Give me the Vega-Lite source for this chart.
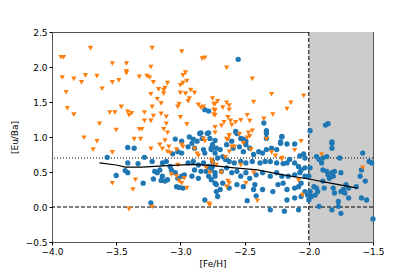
{
 "$schema": "https://vega.github.io/schema/vega-lite/v6.json",
 "width": 321, "height": 210,
 "autosize": "none",
 "padding": {"left": 52, "top": 32, "right": 42, "bottom": 35},
 "background": "white",
 "config": {
  "view": {"stroke": "#555", "strokeWidth": 1},
  "axis": {"grid": false, "labelFont": "DejaVu Sans", "titleFont": "DejaVu Sans", "labelFontSize": 9, "titleFontSize": 9, "titleFontWeight": "normal", "labelColor": "#000", "titleColor": "#000", "tickColor": "#000", "domain": false, "tickSize": 3, "labelPadding": 2, "labelOverlap": false, "labelFlush": false}
 },
 "datasets": {
  "shade": [{"x1": -2, "x2": -1.5, "y1": -0.5, "y2": 2.5}],
  "dotted": [{"level": 0.7}],
  "dashed": [{"level": 0.0}],
  "vline": [{"feh": -2.0}],
  "trend": [
   {"x": -3.63, "y": 0.63}, {"x": -3.5, "y": 0.6}, {"x": -3.43, "y": 0.57}, {"x": -3.3, "y": 0.57}, {"x": -3.1, "y": 0.59}, {"x": -2.9, "y": 0.61}, {"x": -2.75, "y": 0.59}, {"x": -2.58, "y": 0.56}, {"x": -2.4, "y": 0.53}, {"x": -2.2, "y": 0.46}, {"x": -2.0, "y": 0.4}, {"x": -1.8, "y": 0.33}, {"x": -1.62, "y": 0.27}
  ],
  "orange": [
   {"x": -3.93, "y": 2.14}, {"x": -3.91, "y": 2.14}, {"x": -3.7, "y": 2.27}, {"x": -3.22, "y": 2.27}, {"x": -2.99, "y": 2.22}, {"x": -2.83, "y": 2.12}, {"x": -2.81, "y": 2.13}, {"x": -3.53, "y": 2.05}, {"x": -3.42, "y": 2.05}, {"x": -3.23, "y": 2.0}, {"x": -3.42, "y": 1.94}, {"x": -3.42, "y": 1.91}, {"x": -2.96, "y": 1.92}, {"x": -2.98, "y": 1.88}, {"x": -3.92, "y": 1.85}, {"x": -3.83, "y": 1.83}, {"x": -3.74, "y": 1.88}, {"x": -3.77, "y": 1.78}, {"x": -3.65, "y": 1.87}, {"x": -3.53, "y": 1.78}, {"x": -3.48, "y": 1.81}, {"x": -3.32, "y": 1.86}, {"x": -3.26, "y": 1.87}, {"x": -3.24, "y": 1.85}, {"x": -3.21, "y": 1.78}, {"x": -3.1, "y": 1.77}, {"x": -3.12, "y": 1.7}, {"x": -3.13, "y": 1.67}, {"x": -3.13, "y": 1.62}, {"x": -3.0, "y": 1.74}, {"x": -2.98, "y": 1.77}, {"x": -2.95, "y": 1.8}, {"x": -3.17, "y": 1.68}, {"x": -3.0, "y": 1.63}, {"x": -2.96, "y": 1.62}, {"x": -2.92, "y": 1.67}, {"x": -2.89, "y": 1.63}, {"x": -2.93, "y": 1.55}, {"x": -2.94, "y": 1.51}, {"x": -3.23, "y": 1.61}, {"x": -3.61, "y": 1.69}, {"x": -3.89, "y": 1.64}, {"x": -3.18, "y": 1.54}, {"x": -3.15, "y": 1.48}, {"x": -3.22, "y": 1.43}, {"x": -3.01, "y": 1.47}, {"x": -3.02, "y": 1.43}, {"x": -2.86, "y": 1.46}, {"x": -2.84, "y": 1.42}, {"x": -2.82, "y": 1.43}, {"x": -2.74, "y": 1.47}, {"x": -2.74, "y": 1.39}, {"x": -2.74, "y": 1.32}, {"x": -3.88, "y": 1.41}, {"x": -3.83, "y": 1.32}, {"x": -3.46, "y": 1.43}, {"x": -3.55, "y": 1.35}, {"x": -3.51, "y": 1.35}, {"x": -3.41, "y": 1.36}, {"x": -3.38, "y": 1.34}, {"x": -3.4, "y": 1.31}, {"x": -3.28, "y": 1.35}, {"x": -3.15, "y": 1.33}, {"x": -3.11, "y": 1.29}, {"x": -3.21, "y": 1.3}, {"x": -3.28, "y": 1.23}, {"x": -3.23, "y": 1.23}, {"x": -3.0, "y": 1.28}, {"x": -2.95, "y": 1.18}, {"x": -3.11, "y": 1.19}, {"x": -3.1, "y": 1.06}, {"x": -3.63, "y": 1.19}, {"x": -3.5, "y": 1.1}, {"x": -3.32, "y": 1.11}, {"x": -3.3, "y": 1.11}, {"x": -3.13, "y": 1.11}, {"x": -3.75, "y": 0.99}, {"x": -3.65, "y": 0.94}, {"x": -3.36, "y": 0.97}, {"x": -3.31, "y": 0.97}, {"x": -3.12, "y": 0.95}, {"x": -2.82, "y": 0.97}, {"x": -2.81, "y": 0.94}, {"x": -2.73, "y": 1.06},
   {"x": -2.64, "y": 1.99}, {"x": -2.44, "y": 1.83}, {"x": -2.29, "y": 1.61}, {"x": -2.04, "y": 1.59}, {"x": -2.14, "y": 1.49}, {"x": -2.17, "y": 1.4}, {"x": -2.28, "y": 1.32}, {"x": -2.35, "y": 1.26}, {"x": -2.43, "y": 1.5}, {"x": -2.48, "y": 1.31}, {"x": -2.46, "y": 1.23}, {"x": -2.44, "y": 1.09}, {"x": -2.75, "y": 1.55}, {"x": -2.71, "y": 1.51}, {"x": -2.73, "y": 1.47}, {"x": -2.64, "y": 1.49}, {"x": -2.62, "y": 1.45}, {"x": -2.67, "y": 1.42}, {"x": -2.62, "y": 1.39}, {"x": -2.73, "y": 1.38}, {"x": -2.73, "y": 1.31}, {"x": -2.63, "y": 1.28}, {"x": -2.61, "y": 1.23}, {"x": -2.66, "y": 1.21}, {"x": -2.53, "y": 1.24}, {"x": -2.57, "y": 1.21}, {"x": -2.73, "y": 1.14}, {"x": -2.68, "y": 1.16}, {"x": -2.6, "y": 1.17}, {"x": -2.62, "y": 1.02}, {"x": -2.54, "y": 1.04}, {"x": -2.48, "y": 0.99}, {"x": -2.33, "y": 0.97}, {"x": -2.64, "y": 0.97}, {"x": -2.06, "y": 0.94},
   {"x": -3.68, "y": 0.82}, {"x": -3.53, "y": 0.78}, {"x": -3.53, "y": 0.34}, {"x": -3.35, "y": 0.39}, {"x": -3.37, "y": 0.25}, {"x": -3.4, "y": -0.03},
   {"x": -3.23, "y": 0.83}, {"x": -3.16, "y": 0.89}, {"x": -3.14, "y": 0.83}, {"x": -3.09, "y": 0.86}, {"x": -3.1, "y": 0.79}, {"x": -3.08, "y": 0.77}, {"x": -3.03, "y": 0.82}, {"x": -2.99, "y": 0.89}, {"x": -2.98, "y": 0.86}, {"x": -2.89, "y": 0.83}, {"x": -2.87, "y": 0.76}, {"x": -2.86, "y": 0.73}, {"x": -3.02, "y": 0.6}, {"x": -3.07, "y": 0.46}, {"x": -3.03, "y": 0.44}, {"x": -3.01, "y": 0.37}, {"x": -2.97, "y": 0.41}, {"x": -2.99, "y": 0.34}, {"x": -2.95, "y": 0.27}, {"x": -2.8, "y": 0.56}, {"x": -2.76, "y": 0.67}, {"x": -2.75, "y": 0.63}, {"x": -2.77, "y": 0.49}, {"x": -2.78, "y": 0.05}, {"x": -3.22, "y": 0.0},
   {"x": -2.62, "y": 1.02}, {"x": -2.63, "y": 0.96}, {"x": -2.6, "y": 0.86}, {"x": -2.62, "y": 0.79}, {"x": -2.58, "y": 0.86}, {"x": -2.51, "y": 0.91}, {"x": -2.46, "y": 1.01}, {"x": -2.45, "y": 0.82}, {"x": -2.47, "y": 1.06}, {"x": -2.29, "y": 0.78}, {"x": -2.26, "y": 0.73}, {"x": -2.21, "y": 0.68}, {"x": -2.65, "y": 0.71}, {"x": -2.53, "y": 0.6}, {"x": -2.72, "y": 0.6}, {"x": -2.68, "y": 0.49}, {"x": -2.43, "y": 0.49}, {"x": -2.63, "y": 0.37}, {"x": -2.64, "y": 0.29}, {"x": -2.62, "y": 0.34}, {"x": -2.49, "y": 0.34}, {"x": -2.4, "y": 0.09}, {"x": -2.77, "y": 0.03},
   {"x": -2.11, "y": 0.81}, {"x": -2.21, "y": 0.7}, {"x": -2.08, "y": 0.38}, {"x": -2.05, "y": 0.17}, {"x": -1.9, "y": 0.75}, {"x": -1.58, "y": 0.56}
  ],
  "blue": [
   {"x": -3.04, "y": 0.97}, {"x": -2.99, "y": 0.94}, {"x": -2.93, "y": 1.0}, {"x": -2.9, "y": 0.97}, {"x": -2.87, "y": 0.94}, {"x": -2.84, "y": 1.06}, {"x": -2.81, "y": 1.39}, {"x": -2.78, "y": 1.06}, {"x": -2.78, "y": 1.37},
   {"x": -2.55, "y": 2.11}, {"x": -2.35, "y": 1.2}, {"x": -2.33, "y": 1.09}, {"x": -2.33, "y": 1.05}, {"x": -2.33, "y": 0.98}, {"x": -2.21, "y": 1.0}, {"x": -2.57, "y": 1.08}, {"x": -2.56, "y": 1.05}, {"x": -2.53, "y": 0.98}, {"x": -2.51, "y": 0.97}, {"x": -2.49, "y": 0.94}, {"x": -2.73, "y": 0.95}, {"x": -1.99, "y": 1.09}, {"x": -1.87, "y": 1.17}, {"x": -1.85, "y": 1.19}, {"x": -1.82, "y": 0.93}, {"x": -2.22, "y": 0.93},
   {"x": -3.57, "y": 0.71}, {"x": -3.41, "y": 0.85}, {"x": -3.36, "y": 0.84}, {"x": -3.41, "y": 0.63}, {"x": -3.33, "y": 0.62}, {"x": -3.43, "y": 0.52}, {"x": -3.41, "y": 0.49}, {"x": -3.5, "y": 0.45}, {"x": -3.29, "y": 0.34}, {"x": -3.28, "y": 0.71}, {"x": -3.23, "y": 0.06}, {"x": -3.22, "y": 0.65},
   {"x": -3.18, "y": 0.49}, {"x": -3.16, "y": 0.53}, {"x": -3.2, "y": 0.51}, {"x": -3.21, "y": 0.4}, {"x": -3.14, "y": 0.44}, {"x": -3.15, "y": 0.38}, {"x": -3.12, "y": 0.37}, {"x": -3.1, "y": 0.39}, {"x": -3.14, "y": 0.63}, {"x": -3.11, "y": 0.65}, {"x": -3.08, "y": 0.58}, {"x": -3.07, "y": 0.53}, {"x": -3.04, "y": 0.49}, {"x": -3.06, "y": 0.76}, {"x": -3.02, "y": 0.79}, {"x": -2.99, "y": 0.77}, {"x": -3.03, "y": 0.29}, {"x": -3.01, "y": 0.28}, {"x": -2.98, "y": 0.27}, {"x": -3.02, "y": 0.41}, {"x": -2.99, "y": 0.44}, {"x": -2.91, "y": 0.91}, {"x": -2.94, "y": 0.86}, {"x": -2.85, "y": 1.05}, {"x": -2.83, "y": 0.98}, {"x": -2.79, "y": 1.05}, {"x": -2.77, "y": 0.98}, {"x": -2.89, "y": 0.84}, {"x": -2.82, "y": 0.82}, {"x": -2.81, "y": 0.77}, {"x": -2.76, "y": 0.84}, {"x": -2.94, "y": 0.63}, {"x": -2.9, "y": 0.65}, {"x": -2.86, "y": 0.6}, {"x": -2.82, "y": 0.63}, {"x": -2.78, "y": 0.58}, {"x": -2.75, "y": 0.65}, {"x": -2.89, "y": 0.53}, {"x": -2.84, "y": 0.51}, {"x": -2.8, "y": 0.51}, {"x": -2.76, "y": 0.53}, {"x": -2.97, "y": 0.46}, {"x": -2.91, "y": 0.44}, {"x": -2.86, "y": 0.41}, {"x": -2.78, "y": 0.44}, {"x": -2.73, "y": 0.44}, {"x": -2.81, "y": 0.1}, {"x": -2.72, "y": 0.22}, {"x": -2.73, "y": 0.34},
   {"x": -2.75, "y": 0.89}, {"x": -2.76, "y": 0.82}, {"x": -2.72, "y": 0.84}, {"x": -2.73, "y": 0.77}, {"x": -2.69, "y": 0.82}, {"x": -2.67, "y": 0.72}, {"x": -2.71, "y": 0.7}, {"x": -2.65, "y": 0.68}, {"x": -2.64, "y": 0.89}, {"x": -2.6, "y": 0.94}, {"x": -2.59, "y": 0.84}, {"x": -2.54, "y": 0.86}, {"x": -2.49, "y": 0.89}, {"x": -2.46, "y": 0.84}, {"x": -2.51, "y": 0.79}, {"x": -2.43, "y": 0.75}, {"x": -2.39, "y": 0.79}, {"x": -2.36, "y": 0.77}, {"x": -2.33, "y": 0.82}, {"x": -2.29, "y": 0.84}, {"x": -2.25, "y": 0.82}, {"x": -2.21, "y": 1.01}, {"x": -2.22, "y": 0.91}, {"x": -2.62, "y": 0.65}, {"x": -2.58, "y": 0.63}, {"x": -2.53, "y": 0.65}, {"x": -2.49, "y": 0.63}, {"x": -2.44, "y": 0.65}, {"x": -2.38, "y": 0.63}, {"x": -2.34, "y": 0.65}, {"x": -2.3, "y": 0.65}, {"x": -2.25, "y": 0.63}, {"x": -2.2, "y": 0.62}, {"x": -2.75, "y": 0.58}, {"x": -2.73, "y": 0.49}, {"x": -2.76, "y": 0.39}, {"x": -2.68, "y": 0.51}, {"x": -2.64, "y": 0.56}, {"x": -2.6, "y": 0.49}, {"x": -2.56, "y": 0.51}, {"x": -2.53, "y": 0.44}, {"x": -2.49, "y": 0.49}, {"x": -2.46, "y": 0.41}, {"x": -2.41, "y": 0.46}, {"x": -2.36, "y": 0.49}, {"x": -2.3, "y": 0.44}, {"x": -2.25, "y": 0.49}, {"x": -2.21, "y": 0.44}, {"x": -2.72, "y": 0.32}, {"x": -2.69, "y": 0.25}, {"x": -2.67, "y": 0.34}, {"x": -2.62, "y": 0.27}, {"x": -2.56, "y": 0.32}, {"x": -2.51, "y": 0.29}, {"x": -2.43, "y": 0.25}, {"x": -2.42, "y": 0.32}, {"x": -2.36, "y": 0.25}, {"x": -2.28, "y": 0.22}, {"x": -2.24, "y": 0.32}, {"x": -2.2, "y": 0.34}, {"x": -2.71, "y": 0.15}, {"x": -2.41, "y": 0.16}, {"x": -2.48, "y": 0.09}, {"x": -2.3, "y": -0.04}, {"x": -2.19, "y": -0.06},
   {"x": -2.17, "y": 0.9}, {"x": -2.11, "y": 0.9}, {"x": -2.04, "y": 0.76}, {"x": -2.03, "y": 0.7}, {"x": -2.07, "y": 0.73}, {"x": -2.17, "y": 0.63}, {"x": -2.15, "y": 0.68}, {"x": -2.11, "y": 0.63}, {"x": -2.08, "y": 0.58}, {"x": -2.06, "y": 0.53}, {"x": -2.03, "y": 0.56}, {"x": -2.16, "y": 0.44}, {"x": -2.11, "y": 0.46}, {"x": -2.07, "y": 0.49}, {"x": -2.03, "y": 0.44}, {"x": -2.06, "y": 0.34}, {"x": -2.17, "y": 0.25}, {"x": -2.11, "y": 0.27}, {"x": -2.08, "y": 0.29}, {"x": -2.03, "y": 0.22}, {"x": -2.17, "y": 0.1}, {"x": -2.11, "y": 0.13}, {"x": -2.06, "y": 0.15}, {"x": -2.01, "y": 0.17}, {"x": -2.08, "y": -0.04},
   {"x": -1.99, "y": 0.56}, {"x": -2.0, "y": 0.44}, {"x": -1.98, "y": 0.15}, {"x": -2.0, "y": 0.1}, {"x": -1.99, "y": 0.22}, {"x": -1.96, "y": 0.29}, {"x": -1.94, "y": 0.72}, {"x": -1.92, "y": 0.68}, {"x": -1.89, "y": 0.7}, {"x": -1.9, "y": 0.63}, {"x": -1.82, "y": 0.91}, {"x": -1.82, "y": 0.84}, {"x": -1.76, "y": 0.7}, {"x": -1.89, "y": 0.53}, {"x": -1.86, "y": 0.51}, {"x": -1.85, "y": 0.46}, {"x": -1.82, "y": 0.49}, {"x": -1.81, "y": 0.44}, {"x": -1.84, "y": 0.41}, {"x": -1.8, "y": 0.51}, {"x": -1.75, "y": 0.49}, {"x": -1.89, "y": 0.37}, {"x": -1.94, "y": 0.27}, {"x": -1.93, "y": 0.22}, {"x": -1.95, "y": 0.17}, {"x": -1.88, "y": 0.27}, {"x": -1.81, "y": 0.27}, {"x": -1.8, "y": 0.2}, {"x": -1.75, "y": 0.22}, {"x": -1.73, "y": 0.25}, {"x": -1.71, "y": 0.32}, {"x": -1.69, "y": 0.27}, {"x": -1.72, "y": 0.2}, {"x": -1.69, "y": 0.13}, {"x": -1.77, "y": 0.08}, {"x": -1.92, "y": 0.01}, {"x": -1.82, "y": -0.04}, {"x": -1.75, "y": -0.09}, {"x": -1.77, "y": 0.01}, {"x": -1.63, "y": 0.29}, {"x": -1.59, "y": 0.53}, {"x": -1.6, "y": 0.44}, {"x": -1.56, "y": 0.37}, {"x": -1.59, "y": 0.13}, {"x": -1.55, "y": 0.1}, {"x": -1.53, "y": 0.65}, {"x": -1.51, "y": 0.63}, {"x": -1.58, "y": 0.77}, {"x": -1.5, "y": -0.17}, {"x": -1.86, "y": 0.72}
  ]
 },
 "layer": [
  {
   "data": {"name": "shade"},
   "mark": {"type": "rect", "color": "#cccccc"},
   "encoding": {
    "x": {"field": "x1", "type": "quantitative", "scale": {"domain": [-4, -1.5], "nice": false, "zero": false},
          "axis": {"values": [-4, -3.5, -3, -2.5, -2, -1.5], "format": ".1f", "title": "[Fe/H]", "titlePadding": 3}},
    "x2": {"field": "x2"},
    "y": {"field": "y1", "type": "quantitative", "scale": {"domain": [-0.5, 2.5], "nice": false, "zero": false},
          "axis": {"tickCount": 6, "labelExpr": "format(datum.value, '.1f')", "title": "[Eu/Ba]", "titlePadding": 6}},
    "y2": {"field": "y2"}
   }
  },
  {
   "data": {"name": "dotted"},
   "mark": {"type": "rule", "color": "black", "strokeWidth": 1, "strokeDash": [1, 2]},
   "encoding": {"y": {"field": "level", "type": "quantitative"}}
  },
  {
   "data": {"name": "dashed"},
   "mark": {"type": "rule", "color": "black", "strokeWidth": 1, "strokeDash": [4, 2]},
   "encoding": {"y": {"field": "level", "type": "quantitative"}}
  },
  {
   "data": {"name": "vline"},
   "mark": {"type": "rule", "color": "black", "strokeWidth": 1, "strokeDash": [4, 2]},
   "encoding": {"x": {"field": "feh", "type": "quantitative"}}
  },
  {
   "data": {"name": "blue"},
   "mark": {"type": "point", "shape": "circle", "filled": true, "color": "#1f77b4", "opacity": 1, "size": 28},
   "encoding": {"x": {"field": "x", "type": "quantitative"}, "y": {"field": "y", "type": "quantitative"}}
  },
  {
   "data": {"name": "orange"},
   "mark": {"type": "point", "shape": "triangle-down", "filled": true, "color": "#ff7f0e", "opacity": 1, "size": 28},
   "encoding": {"x": {"field": "x", "type": "quantitative"}, "y": {"field": "y", "type": "quantitative"}}
  },
  {
   "data": {"name": "trend"},
   "mark": {"type": "line", "color": "black", "strokeWidth": 1.2},
   "encoding": {"x": {"field": "x", "type": "quantitative"}, "y": {"field": "y", "type": "quantitative"}}
  }
 ]
}
